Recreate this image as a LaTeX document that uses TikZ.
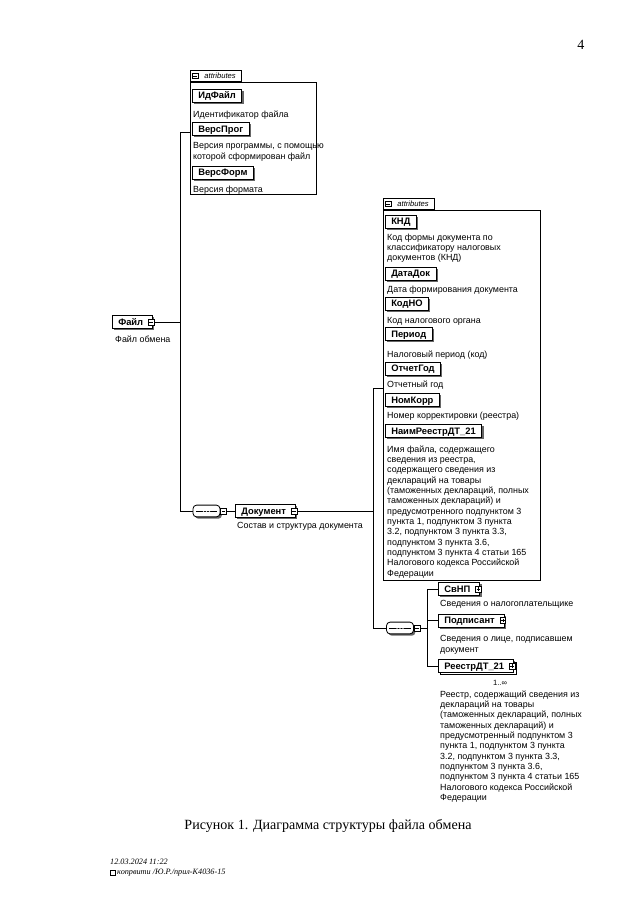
\documentclass[tikz,border=0pt]{standalone}
\usepackage{fontspec}
\setmainfont{Liberation Serif}
\newfontfamily\dsans{Liberation Sans}
\usetikzlibrary{shadows}

\begin{document}
\begin{tikzpicture}[x=0.03cm, y=-0.03cm,
        elem/.style={draw, line width=0.7pt, fill=white, anchor=west, inner xsep=5pt, inner ysep=0pt, text height=5.8pt, text depth=0pt, minimum height=11pt, font=\dsans\bfseries\fontsize{8}{9}\selectfont, drop shadow={shadow xshift=1.6pt, shadow yshift=-1.6pt, fill=black, opacity=0.6}},
        multi/.style={elem, copy shadow={shadow xshift=2pt, shadow yshift=-2pt, draw=black, fill=white, line width=0.6pt}},
        desc/.style={anchor=north west, inner sep=0pt, align=left, font=\dsans\fontsize{7.6}{8.8}\selectfont},
        grp/.style={draw, line width=0.6pt, anchor=north west, inner sep=0pt},
        tab/.style={draw, line width=0.6pt, anchor=south west, inner xsep=5pt, inner ysep=0pt, minimum height=10pt, font=\dsans\itshape\fontsize{6.5}{7}\selectfont},
        xminus/.style={draw, fill=white, minimum size=5pt, inner sep=0pt, line width=0.5pt, path picture={\draw[line width=0.5pt] ([xshift=1pt]path picture bounding box.west) -- ([xshift=-1pt]path picture bounding box.east);}},
        xplus/.style={draw, fill=white, minimum size=5pt, inner sep=0pt, line width=0.5pt, path picture={\draw[line width=0.5pt] ([xshift=1pt]path picture bounding box.west) -- ([xshift=-1pt]path picture bounding box.east) ([yshift=-1pt]path picture bounding box.north) -- ([yshift=1pt]path picture bounding box.south);}},
        seq/.style={draw, line width=0.7pt, fill=white, rounded corners=3pt, minimum width=23pt, minimum height=10pt, inner sep=0pt, drop shadow={shadow xshift=1.6pt, shadow yshift=-1.6pt, fill=black, opacity=0.6}, path picture={\draw[line width=0.5pt] ([xshift=2.5pt]path picture bounding box.west) -- ([xshift=-2.5pt]path picture bounding box.east); \foreach \d in {-2.5pt,0pt,2.5pt} \fill ([xshift=\d]path picture bounding box.center) circle (0.7pt);}},
        conn/.style={line width=0.6pt}
    ]
    \useasboundingbox (0,0) rectangle (640,915);

    \node[font=\fontsize{12}{14}\selectfont] (pg) at (581,45) {4};

    % root element
    \node[elem] (fajl) at (112,322) {Файл\kern3pt};
    \node[xminus] (fajlx) at ([xshift=-1.5pt]fajl.east) {};
    \node[desc] (fajld) at (115,335.5) {Файл обмена};

    % attributes of the file
    \node[grp, minimum width=3.78cm, minimum height=3.36cm] (grp1) at (190,82) {};
    \node[tab] (tab1) at (grp1.north west) {\kern7pt attributes};
    \node[xminus] (tab1x) at ([xshift=4.3pt]tab1.west) {};
    \node[elem] (idf) at (192,95.5) {ИдФайл};
    \node[desc] (idfd) at (193,110.5) {Идентификатор файла};
    \node[elem] (vprog) at (192,129) {ВерсПрог};
    \node[desc] (vprogd) at (193,142.5) {Версия программы, с помощью\\которой сформирован файл};
    \node[elem] (vform) at (192,172.5) {ВерсФорм};
    \node[desc] (vformd) at (193,185.5) {Версия формата};

    % document
    \node[seq] (seq1) at (206.5,511) {};
    \node[xminus, anchor=west] (seq1x) at (seq1.east) {};
    \node[elem] (dok) at (235,511) {Документ\kern3pt};
    \node[xminus] (dokx) at ([xshift=-1.5pt]dok.east) {};
    \node[desc] (dokd) at (237,522.5) {Состав и структура документа};

    % attributes of the document
    \node[grp, minimum width=4.71cm, minimum height=11.1cm] (grp2) at (383,210) {};
    \node[tab] (tab2) at (grp2.north west) {\kern7pt attributes};
    \node[xminus] (tab2x) at ([xshift=4.3pt]tab2.west) {};
    \node[elem] (knd) at (385,221.5) {КНД};
    \node[desc] (kndd) at (387,233.5) {Код формы документа по\\классификатору налоговых\\документов (КНД)};
    \node[elem] (datadok) at (385,273.5) {ДатаДок};
    \node[desc] (datadokd) at (387,285.5) {Дата формирования документа};
    \node[elem] (kodno) at (385,303.5) {КодНО};
    \node[desc] (kodnod) at (387,317.5) {Код налогового органа};
    \node[elem] (period) at (385,334) {Период};
    \node[desc] (periodd) at (387,350.5) {Налоговый период (код)};
    \node[elem] (otchgod) at (385,368.5) {ОтчетГод};
    \node[desc] (otchgodd) at (387,380.5) {Отчетный год};
    \node[elem] (nomkorr) at (385,400) {НомКорр};
    \node[desc] (nomkorrd) at (387,411.5) {Номер корректировки (реестра)};
    \node[elem] (naim) at (385,431) {НаимРеестрДТ\_21};
    \node[desc] (naimd) at (387,445.5) {Имя файла, содержащего\\сведения из реестра,\\содержащего сведения из\\деклараций на товары\\(таможенных деклараций, полных\\таможенных деклараций) и\\предусмотренного подпунктом 3\\пункта 1, подпунктом 3 пункта\\3.2, подпунктом 3 пункта 3.3,\\подпунктом 3 пункта 3.6,\\подпунктом 3 пункта 4 статьи 165\\Налогового кодекса Российской\\Федерации};

    % children of the document
    \node[seq] (seq2) at (400,628) {};
    \node[xminus, anchor=west] (seq2x) at (seq2.east) {};
    \node[elem] (svnp) at (438,589) {СвНП\kern3pt};
    \node[xplus] (svnpx) at ([xshift=-1.5pt]svnp.east) {};
    \node[desc] (svnpd) at (440,600.5) {Сведения о налогоплательщике};
    \node[elem] (podp) at (438,620.5) {Подписант\kern3pt};
    \node[xplus] (podpx) at ([xshift=-1.5pt]podp.east) {};
    \node[desc] (podpd) at (440,635.5) {Сведения о лице, подписавшем\\документ};
    \node[multi] (reestr) at (438,666) {РеестрДТ\_21\kern3pt};
    \node[xplus] (reestrx) at ([xshift=-1.5pt]reestr.east) {};
    \node[font=\dsans\fontsize{6.5}{7}\selectfont] (mult) at (500,683) {1..∞};
    \node[desc] (reestrd) at (440,690.5) {Реестр, содержащий сведения из\\деклараций на товары\\(таможенных деклараций, полных\\таможенных деклараций) и\\предусмотренный подпунктом 3\\пункта 1, подпунктом 3 пункта\\3.2, подпунктом 3 пункта 3.3,\\подпунктом 3 пункта 3.6,\\подпунктом 3 пункта 4 статьи 165\\Налогового кодекса Российской\\Федерации};

    % connectors
    \coordinate (j1) at (180,322);
    \coordinate (j2) at (373,511);
    \coordinate (j3) at (427,628);
    \draw[conn] (fajlx.east) -- (j1);
    \draw[conn] (j1) |- ([yshift=5.5pt]grp1.west);
    \draw[conn] (j1) |- (seq1.west);
    \draw[conn] (seq1x.east) -- (dok.west);
    \draw[conn] (dokx.east) -- (j2);
    \draw[conn] (j2) |- ([yshift=6pt]grp2.west);
    \draw[conn] (j2) |- (seq2.west);
    \draw[conn] (seq2x.east) -- (j3);
    \draw[conn] (j3) |- (svnp.west);
    \draw[conn] (j3) |- (podp.west);
    \draw[conn] (j3) |- (reestr.west);

    \node[font=\fontsize{12}{14}\selectfont] (cap) at (328,826) {Рисунок 1. Диаграмма структуры файла обмена};

    % footer
    \node[anchor=west, inner sep=0pt, font=\itshape\fontsize{7}{8}\selectfont] (ft1) at (110,862) {12.03.2024 11:22};
    \node[draw, line width=0.4pt, minimum size=4.5pt, inner sep=0pt] (fticon) at (113,873) {};
    \node[anchor=west, inner sep=0pt, font=\itshape\fontsize{7}{8}\selectfont] (ft2) at (117,873) {копрвити /Ю.Р./прил-К4036-15};
\end{tikzpicture}
\end{document}
